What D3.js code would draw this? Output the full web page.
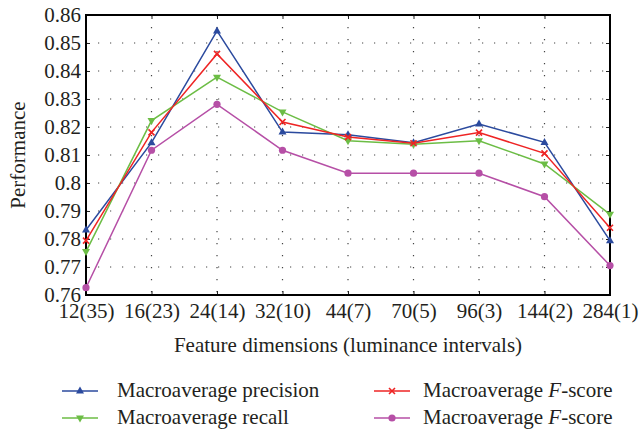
<!DOCTYPE html>
<html><head><meta charset="utf-8">
<script src="https://cdn.jsdelivr.net/npm/d3@7"></script>
<style>body{margin:0;background:#fff}svg{display:block}text{font-family:"Liberation Serif","Times New Roman",serif;fill:#231f20}</style>
</head><body><svg id="c" width="641" height="432"></svg>
<script>
const categories = ["12(35)","16(23)","24(14)","32(10)","44(7)","70(5)","96(3)","144(2)","284(1)"];
const precision = [0.7832,0.8144,0.8543,0.8182,0.8172,0.8144,0.8211,0.8145,0.7794];
const recall    = [0.7755,0.8223,0.8378,0.8254,0.8151,0.8138,0.8151,0.8068,0.7888];
const fscore1   = [0.7794,0.8181,0.8461,0.8218,0.8164,0.8142,0.8180,0.8106,0.7840];
const fscore2   = [0.7626,0.8117,0.8281,0.8117,0.8035,0.8035,0.8035,0.7951,0.7705];
const yTicks = [0.76,0.77,0.78,0.79,0.8,0.81,0.82,0.83,0.84,0.85,0.86];
const seriesNames = ["Macroaverage precision","Macroaverage recall","Macroaverage F-score","Macroaverage F-score"];

const svg = d3.select("#c");
const L=86,R=610,T=15,B=295;
const FS = "21px";
const x = d3.scalePoint().domain(categories).range([L,R]);
const y = d3.scaleLinear().domain([0.76,0.86]).range([B,T]);

const series = [
  {name:seriesNames[0], vals:precision, color:"#2b4a9e", marker:"up"},
  {name:seriesNames[1], vals:recall, color:"#6cbd45", marker:"down"},
  {name:seriesNames[2], vals:fscore1, color:"#ee2424", marker:"x"},
  {name:seriesNames[3], vals:fscore2, color:"#b64fa6", marker:"circle"}
];

// grid
const g = svg.append("g");
yTicks.slice(1,-1).forEach(t=>{
  g.append("line").attr("x1",L).attr("x2",R).attr("y1",y(t)).attr("y2",y(t))
   .attr("stroke","#444").attr("stroke-width",1.2).attr("stroke-dasharray","1.2,10.8");
});
categories.slice(1,-1).forEach(c=>{
  g.append("line").attr("x1",x(c)).attr("x2",x(c)).attr("y1",T).attr("y2",B)
   .attr("stroke","#444").attr("stroke-width",1.2).attr("stroke-dasharray","1.2,10.8");
});

// axes
const ax = svg.append("g").attr("transform",`translate(0,${B})`)
  .call(d3.axisBottom(x).tickSize(-4).tickPadding(8));
const ay = svg.append("g").attr("transform",`translate(${L},0)`)
  .call(d3.axisLeft(y).tickValues(yTicks).tickFormat(d=>d3.format("")(+d.toFixed(2))).tickSize(-4).tickPadding(5));
const ayr = svg.append("g").attr("transform",`translate(${R},0)`)
  .call(d3.axisRight(y).tickValues(yTicks).tickSize(-4).tickFormat(""));
const axt = svg.append("g").attr("transform",`translate(0,${T})`)
  .call(d3.axisTop(x).tickSize(-4).tickFormat(""));
[ax,ay,ayr,axt].forEach(a=>{a.select(".domain").remove();a.selectAll("line").attr("stroke","#222");});
ax.selectAll("text").style("font-size",FS).attr("font-family","Liberation Serif").attr("fill","#231f20").attr("dy","0.71em");
ay.selectAll("text").style("font-size",FS).attr("font-family","Liberation Serif").attr("fill","#231f20").attr("dy","0.32em");
svg.append("rect").attr("x",L).attr("y",T).attr("width",R-L).attr("height",B-T)
  .attr("fill","none").attr("stroke","#000").attr("stroke-width",2);

// lines
const line = d3.line().x((d,i)=>x(categories[i])).y(d=>y(d));
function marker(sel, type, color, cx, cy){
  if(type==="up") sel.append("path").attr("d",`M${cx},${cy-4.5}L${cx+4},${cy+2.5}L${cx-4},${cy+2.5}Z`).attr("fill",color);
  else if(type==="down") sel.append("path").attr("d",`M${cx},${cy+4.5}L${cx+4},${cy-2.5}L${cx-4},${cy-2.5}Z`).attr("fill",color);
  else if(type==="x") sel.append("path").attr("d",`M${cx-3},${cy-3}L${cx+3},${cy+3}M${cx-3},${cy+3}L${cx+3},${cy-3}`).attr("stroke",color).attr("stroke-width",1.6);
  else sel.append("circle").attr("cx",cx).attr("cy",cy).attr("r",3.6).attr("fill",color);
}
series.forEach(s=>{
  svg.append("path").datum(s.vals).attr("d",line).attr("fill","none").attr("stroke",s.color).attr("stroke-width",1.5);
  const mg = svg.append("g");
  s.vals.forEach((v,i)=>marker(mg,s.marker,s.color,x(categories[i]),y(v)));
});

// axis titles
svg.append("text").attr("x",348).attr("y",352).attr("text-anchor","middle").style("font-size",FS).text("Feature dimensions (luminance intervals)");
svg.append("text").attr("transform","translate(25,155) rotate(-90)").attr("text-anchor","middle").style("font-size",FS).text("Performance");

// legend
const leg = [
  {s:series[0], lx:62, tx:117, y:391},
  {s:series[1], lx:62, tx:117, y:418},
  {s:series[2], lx:374, tx:423, y:391},
  {s:series[3], lx:374, tx:423, y:418}
];
leg.forEach(l=>{
  const w = 36;
  svg.append("line").attr("x1",l.lx).attr("x2",l.lx+w).attr("y1",l.y).attr("y2",l.y).attr("stroke",l.s.color).attr("stroke-width",1.5);
  marker(svg,l.s.marker,l.s.color,l.lx+w/2,l.y);
  const t = svg.append("text").attr("x",l.tx).attr("y",l.y+6).style("font-size",FS);
  if(l.s.name.includes("F-score")){
    t.append("tspan").text("Macroaverage ");
    t.append("tspan").attr("font-style","italic").text("F");
    t.append("tspan").text("-score");
  } else t.text(l.s.name);
});
</script></body></html>
